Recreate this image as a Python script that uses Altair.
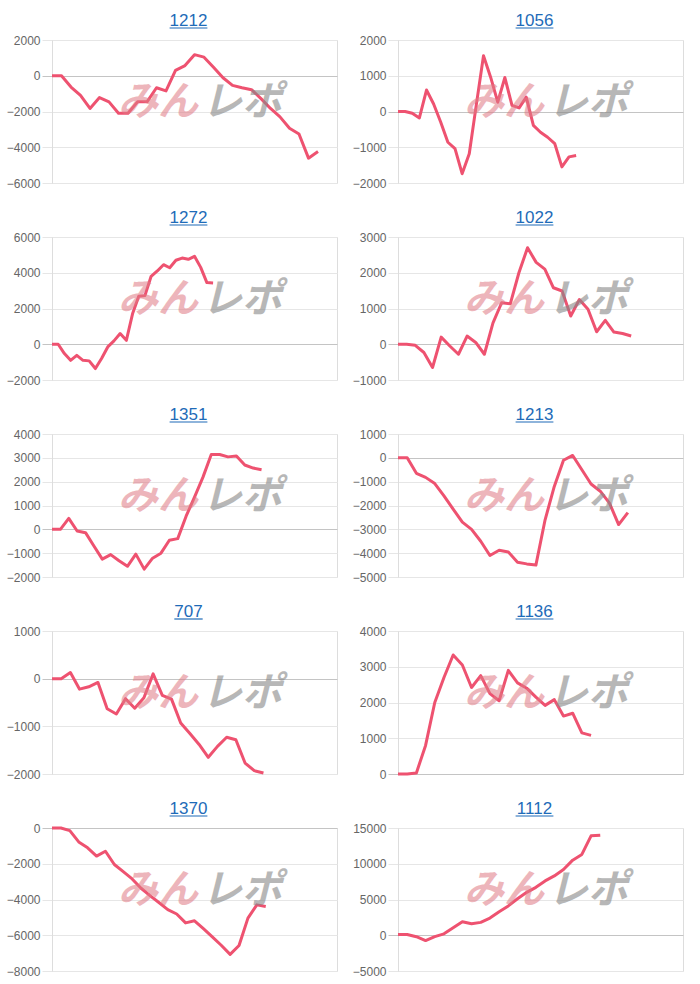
import altair as alt
import pandas as pd

titles = ["1212", "1056", "1272", "1022", "1351", "1213", "707", "1136", "1370", "1112"]

v1212 = [0, 0, -630, -1100, -1830, -1220, -1460, -2100, -2100, -1460, -1460, -670, -850, 300, 570,
         1180, 1040, 480, -110, -540, -670, -780, -1280, -1830, -2300, -2940, -3260, -4610, -4240]
v1056 = [0, 0, -50, -180, 600, 210, -300, -860, -1040, -1740, -1180, 200, 1560, 960, 260, 950, 170,
         100, 400, -390, -580, -720, -900, -1550, -1270, -1230]
v1272 = [0, 0, -520, -900, -620, -900, -930, -1360, -800, -150, 190, 600, 220, 1700, 2680, 2720, 3800,
         4100, 4450, 4280, 4700, 4820, 4750, 4920, 4300, 3450, 3430]
v1022 = [0, 0, -30, -230, -650, 200, -50, -280, 230, 50, -280, 600, 1160, 1130, 2000, 2700, 2290, 2100,
         1580, 1490, 790, 1250, 980, 350, 670, 340, 300, 230]
v1351 = [0, 0, 460, -70, -140, -700, -1250, -1060, -1320, -1550, -1040, -1670, -1210, -1000, -460, -390,
         550, 1350, 2180, 3140, 3140, 3040, 3080, 2700, 2570, 2500]
v1213 = [0, 0, -650, -820, -1080, -1600, -2150, -2700, -3000, -3500, -4100, -3880, -3950, -4380, -4450,
         -4500, -2600, -1200, -100, 100, -500, -1100, -1400, -1900, -2800, -2300]
v707 = [0, 0, 130, -220, -170, -80, -630, -740, -420, -620, -400, 100, -350, -430, -930, -1150, -1380,
        -1650, -1420, -1230, -1280, -1770, -1930, -1980]
v1136 = [0, 0, 30, 800, 2000, 2700, 3330, 3050, 2420, 2750, 2250, 2050, 2900, 2550, 2400, 2150, 1920,
         2080, 1620, 1700, 1150, 1080]
v1370 = [0, 0, -150, -780, -1110, -1570, -1300, -2040, -2440, -2850, -3370, -3780, -4170, -4570, -4810,
         -5310, -5190, -5630, -6090, -6560, -7070, -6570, -5040, -4300, -4390]
v1112 = [100, 100, -200, -750, -200, 200, 1050, 1900, 1600, 1800, 2400, 3300, 4100, 5100, 6000, 6700,
         7600, 8300, 9200, 10500, 11300, 13900, 14000]

series = [v1212, v1056, v1272, v1022, v1351, v1213, v707, v1136, v1370, v1112]
slots = [30, 40, 46, 33, 34, 31, 31, 31, 32, 31]
y_min = [-6000, -2000, -2000, -1000, -2000, -5000, -2000, 0, -8000, -5000]
y_max = [2000, 2000, 6000, 3000, 4000, 1000, 1000, 4000, 0, 15000]
y_step = [2000, 1000, 2000, 1000, 1000, 1000, 1000, 1000, 2000, 5000]

W, H = 285, 143
LINE = "#ee5270"
LINK = "#1e6bb8"
grid_cond = {"condition": {"test": "datum.value === 0", "value": "#c4c4c4"}, "value": "#e6e6e6"}


def panel(title, vals, n, lo, hi, step):
    df = pd.DataFrame({"i": list(range(len(vals))), "v": vals})
    ticks = list(range(lo, hi + 1, step))
    line = alt.Chart(df).mark_line(color=LINE, strokeWidth=3, strokeJoin="round").encode(
        x=alt.X("i:Q", scale=alt.Scale(domain=[0, n], nice=False, zero=False), axis=None),
        y=alt.Y("v:Q", scale=alt.Scale(domain=[lo, hi], nice=False, zero=False),
                axis=alt.Axis(values=ticks, title=None, format="d", grid=True,
                              gridColor=grid_cond, tickColor=grid_cond, tickSize=10,
                              labelPadding=2, labelColor="#666666", labelFontSize=12,
                              labelFont="Liberation Sans", domainColor="#dddddd")),
    )
    tdf = pd.DataFrame({"t": [title]})
    cx = W / 2 - 6
    tw = len(title) * 0.556 * 17
    ttl = alt.Chart(tdf).mark_text(fontSize=17, font="Liberation Sans", color=LINK,
                                   baseline="alphabetic", align="center").encode(
        text="t:N", x=alt.value(cx), y=alt.value(-14))
    uline = alt.Chart(tdf).mark_rule(color=LINK, strokeWidth=1.2).encode(
        x=alt.value(cx - tw / 2), x2=alt.value(cx + tw / 2), y=alt.value(-12))
    wm1 = alt.Chart(pd.DataFrame({"t": ["みん"]})).mark_text(
        fontSize=40, font="Noto Sans CJK JP", fontWeight="bold", fontStyle="italic",
        color="#e07a84", opacity=0.55, baseline="middle", align="center").encode(
        text="t:N", x=alt.value(106), y=alt.value(63))
    wm2 = alt.Chart(pd.DataFrame({"t": ["レポ"]})).mark_text(
        fontSize=40, font="Noto Sans CJK JP", fontWeight="bold", fontStyle="italic",
        color="#888888", opacity=0.6, baseline="middle", align="center").encode(
        text="t:N", x=alt.value(190), y=alt.value(63))
    return alt.layer(line, wm1, wm2, ttl, uline).properties(width=W, height=H)


panels = [panel(t, s, n, a, b, c) for t, s, n, a, b, c in zip(titles, series, slots, y_min, y_max, y_step)]

chart = alt.concat(*panels, columns=2, spacing={"row": 54, "column": 61}, bounds="flush").properties(
    padding={"left": 5, "top": 11, "right": 5, "bottom": 5}
).configure_view(strokeWidth=0, stroke="transparent").configure(font="Liberation Sans", background="white")

chart.save("out.html", embed_options={"renderer": "svg", "actions": False})
